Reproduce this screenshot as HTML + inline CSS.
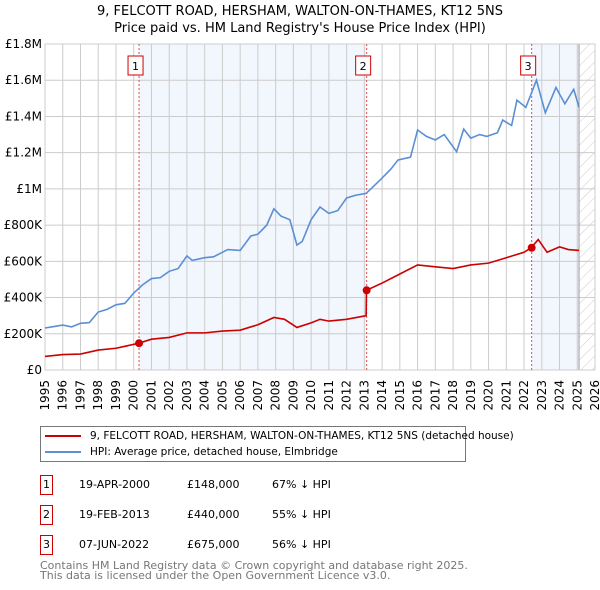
<!DOCTYPE html>
<html><head><meta charset="utf-8"><style>
body{margin:0;background:#fff;font-family:"DejaVu Sans","Liberation Sans",sans-serif;}
.wrap{position:relative;width:600px;height:590px;overflow:hidden;}
</style></head><body>
<div class="wrap">
<svg id="chart" width="600" height="420" style="position:absolute;left:0;top:0" font-family="DejaVu Sans, Liberation Sans, sans-serif">
<defs><pattern id="hatch" patternUnits="userSpaceOnUse" width="8" height="8" patternTransform="rotate(45)"><line x1="0" y1="0" x2="0" y2="8" stroke="#ccc" stroke-width="1"/></pattern></defs>
<text x="300" y="15" text-anchor="middle" font-size="13" fill="#000">9, FELCOTT ROAD, HERSHAM, WALTON-ON-THAMES, KT12 5NS</text>
<text x="300" y="32" text-anchor="middle" font-size="13" fill="#000">Price paid vs. HM Land Registry's House Price Index (HPI)</text>
<g id="grid"></g><g id="marks"></g>
</svg>
<div style="position:absolute;left:40px;top:426px;width:424px;height:34px;border:1px solid #777;font-size:10.5px;white-space:nowrap">
<div style="position:absolute;left:4px;top:3px;"><span style="display:inline-block;width:36px;height:2px;background:#cc0000;vertical-align:middle;margin-right:9px"></span>9, FELCOTT ROAD, HERSHAM, WALTON-ON-THAMES, KT12 5NS (detached house)</div>
<div style="position:absolute;left:4px;top:19px;"><span style="display:inline-block;width:36px;height:2px;background:#5b8fd4;vertical-align:middle;margin-right:9px"></span>HPI: Average price, detached house, Elmbridge</div>
</div>
<div id="table" style="font-size:11px"></div>
<div style="position:absolute;left:40px;top:561px;font-size:11px;color:#777;line-height:10px;white-space:nowrap">Contains HM Land Registry data © Crown copyright and database right 2025.<br>This data is licensed under the Open Government Licence v3.0.</div>
</div>
<script>
const hpiYears=[1995,1995.5,1996,1996.5,1997,1997.5,1998,1998.5,1999,1999.5,2000,2000.5,2001,2001.5,2002,2002.5,2003,2003.3,2004,2004.5,2005,2005.3,2006,2006.6,2007,2007.5,2007.9,2008.3,2008.8,2009.2,2009.5,2010,2010.5,2011,2011.5,2012,2012.5,2013.1,2013.9,2014.5,2014.9,2015.6,2016,2016.5,2017,2017.5,2018.2,2018.6,2019,2019.5,2019.9,2020.5,2020.8,2021.3,2021.6,2022.1,2022.7,2023.2,2023.8,2024.3,2024.8,2025.1];
const hpiValues=[232000,240000,248000,238000,258000,262000,320000,335000,360000,368000,425000,470000,505000,510000,545000,560000,630000,605000,620000,625000,650000,665000,660000,740000,750000,800000,890000,850000,830000,690000,710000,830000,900000,865000,880000,950000,965000,975000,1050000,1110000,1160000,1175000,1325000,1290000,1270000,1300000,1205000,1330000,1280000,1300000,1290000,1310000,1380000,1350000,1490000,1450000,1600000,1420000,1560000,1470000,1550000,1450000];
const ppYears=[1995,1996,1997,1998,1999,2000.3,2001,2002,2003,2004,2005,2006,2007,2007.9,2008.5,2009.2,2010,2010.5,2011,2012,2013.1,2013.12,2014,2015,2016,2017,2018,2019,2020,2021,2022,2022.4,2022.8,2023.3,2024,2024.5,2025.1];
const ppValues=[75000,85000,88000,110000,120000,148000,170000,180000,205000,205000,215000,220000,250000,290000,280000,235000,260000,280000,270000,280000,300000,440000,480000,530000,580000,570000,560000,580000,590000,620000,650000,675000,720000,650000,680000,665000,660000];
const saleYears=[2000.3,2013.13,2022.43];
const saleValues=[148000,440000,675000];
const saleLabels=["1","2","3"];
const saleDates=["19-APR-2000","19-FEB-2013","07-JUN-2022"];
const salePrices=["£148,000","£440,000","£675,000"];
const saleDiffs=["67% ↓ HPI","55% ↓ HPI","56% ↓ HPI"];
const yTicks=[0,200000,400000,600000,800000,1000000,1200000,1400000,1600000,1800000];
const yTickLabels=["£0","£200K","£400K","£600K","£800K","£1M","£1.2M","£1.4M","£1.6M","£1.8M"];
const xTicks=[1995,1996,1997,1998,1999,2000,2001,2002,2003,2004,2005,2006,2007,2008,2009,2010,2011,2012,2013,2014,2015,2016,2017,2018,2019,2020,2021,2022,2023,2024,2025,2026];
const dataEnd=2025.1;
const L=45,R=595,T=44,B=370;
const X=y=>L+(y-1995)/(2026-1995)*(R-L);
const Y=v=>B-v/1800000*(B-T);
const NS="http://www.w3.org/2000/svg";
function mk(tag,attrs,parent){const e=document.createElementNS(NS,tag);for(const k in attrs)e.setAttribute(k,attrs[k]);parent.appendChild(e);return e;}
const g=document.getElementById('grid'),m=document.getElementById('marks');
let s1=mk('rect',{x:X(saleYears[0]),y:T,width:X(saleYears[1])-X(saleYears[0]),height:B-T,fill:'#f2f6fd'},g);


let s2=mk('rect',{x:X(saleYears[2]),y:T,width:X(dataEnd)-X(saleYears[2]),height:B-T,fill:'#f2f6fd'},g);


let h=mk('rect',{x:X(dataEnd),y:T,width:R-X(dataEnd),height:B-T,fill:'url(#hatch)'},g);


yTicks.forEach((v,i)=>{
 mk('line',{x1:L,x2:R,y1:Y(v),y2:Y(v),stroke:'#ccc','stroke-width':1},g);
 const t=mk('text',{x:L-3,y:Y(v)+4,'text-anchor':'end','font-size':12,fill:'#000'},g);
 t.textContent=yTickLabels[i];
 
 
});
xTicks.forEach(yr=>{
 mk('line',{x1:X(yr),x2:X(yr),y1:T,y2:B,stroke:'#ccc','stroke-width':1},g);
 const t=mk('text',{x:0,y:0,'text-anchor':'end','font-size':12,fill:'#000',transform:`translate(${X(yr)+4},380) rotate(-90)`},g);
 t.textContent=yr;
 
 
});
mk('line',{x1:X(dataEnd),x2:X(dataEnd),y1:T,y2:B,stroke:'#999','stroke-width':1},g);
mk('rect',{x:L,y:T,width:R-L,height:B-T,fill:'none',stroke:'#ccc'},g);
saleYears.forEach((yr,i)=>{
 const l=mk('line',{x1:X(yr),x2:X(yr),y1:T,y2:B,stroke:'#e05050','stroke-dasharray':'2,2','stroke-width':1},m);
 
 
 const bx=mk('rect',{x:X(yr)-11,y:56,width:15,height:19,fill:'#fff',stroke:'#cc0000'},m);
 
 
 const t=mk('text',{x:X(yr)-3.5,y:70,'text-anchor':'middle','font-size':11,fill:'#000'},m);
 t.textContent=saleLabels[i];
});
const hp=mk('polyline',{points:hpiYears.map((y,i)=>X(y)+','+Y(hpiValues[i])).join(' '),fill:'none',stroke:'#5b8fd4','stroke-width':1.6},m);


const pp=mk('polyline',{points:ppYears.map((y,i)=>X(y)+','+Y(ppValues[i])).join(' '),fill:'none',stroke:'#cc0000','stroke-width':1.6},m);


saleYears.forEach((yr,i)=>{
 const c=mk('circle',{cx:X(yr),cy:Y(saleValues[i]),r:4,fill:'#cc0000'},m);
 
 
});
const tb=document.getElementById('table');
saleLabels.forEach((lab,i)=>{
 const top=475+i*30;
 const row=document.createElement('div');
 
 
 row.style.cssText=`position:absolute;left:0;top:${top}px;width:600px;height:20px;white-space:nowrap`;
 row.innerHTML=`<div style="position:absolute;left:40px;top:0;width:11px;height:18px;border:1px solid #cc0000;text-align:center;line-height:18px">${lab}</div><div style="position:absolute;left:79px;top:3px">${saleDates[i]}</div><div style="position:absolute;left:187px;top:3px">${salePrices[i]}</div><div style="position:absolute;left:272px;top:3px">${saleDiffs[i]}</div>`;
 tb.appendChild(row);
});
</script>
</body></html>
